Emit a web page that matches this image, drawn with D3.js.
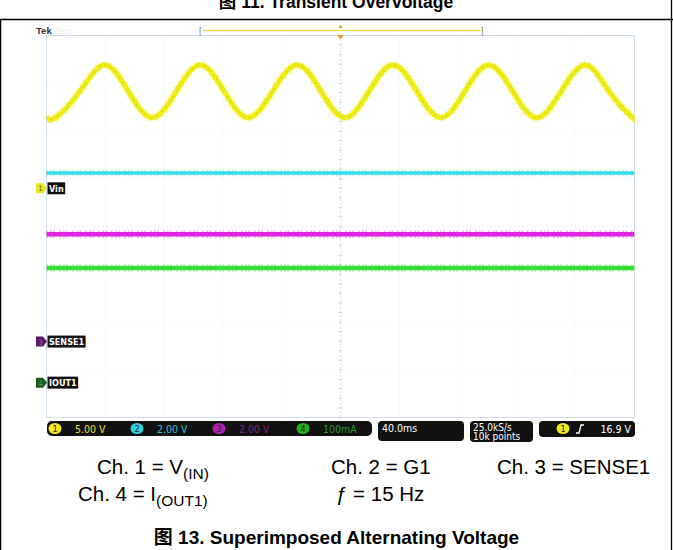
<!DOCTYPE html>
<html><head><meta charset="utf-8">
<script src="https://cdn.jsdelivr.net/npm/d3@7"></script>
<style>body{margin:0;background:#fff}svg{display:block}</style>
</head><body>
<svg id="c" width="673" height="550"></svg>
<script>
// ---------- data ----------
const gridTimesMs = [-200,-160,-120,-80,-40,0,40,80,120,160,200];   // 40 ms/div
const gridDivs = [-4,-3,-2,-1,0,1,2,3,4];
const ch1Time = [-200,-193.9,-177.3,-160.6,-144.3,-128.0,-111.7,-95.4,-79.1,-62.8,-46.2,-29.5,-13.2,3.1,19.4,35.7,52.0,68.3,84.6,100.8,117.2,133.5,150.1,166.7,182.7,198.6,200];
const ch1Volt = [7.5,7.4,10.15,12.9,10.15,7.4,10.15,12.9,10.15,7.4,10.15,12.9,10.15,7.4,10.15,12.9,10.15,7.4,10.15,12.9,10.15,7.4,10.15,12.9,10.15,7.4,7.42];
const flatTime = [-200, 200];
const ch2Volt = [0.64, 0.64];     // G1, 2 V/div
const ch3Volt = [4.5, 4.5];       // SENSE1, 2 V/div
const ch4mA = [240, 240];         // IOUT1, 100 mA/div
const channelNames = ["Vin","G1","SENSE1","IOUT1"];
const channelScales = ["5.00 V","2.00 V","2.00 V","100mA"];
const voltsPerDiv = [5, 2, 2, 100];
const groundDiv = [0.80, 0.80, -2.41, -3.27];
const timebase = "40.0ms", sampleRate = "25.0kS/s", recordLen = "10k points", trigLevel = "16.9 V";
const captionsRow1 = [["Ch. 1 = V","(IN)"],["Ch. 2 = G1",""],["Ch. 3 = SENSE1",""]];
const captionsRow2 = [["Ch. 4 = I","(OUT1)"],["ƒ = 15 Hz",""]];
const topTitle = "图 11. Transient Overvoltage";
const figTitle = "图 13. Superimposed Alternating Voltage";

// ---------- drawing ----------
const svg = d3.select("#c");
const F = "'Liberation Sans', Arial, 'Noto Sans CJK SC', sans-serif";
const SF = "'DejaVu Sans Condensed','Liberation Sans Narrow','DejaVu Sans',sans-serif";

// page frame
svg.append("line").attr("x1",0).attr("x2",673).attr("y1",19.5).attr("y2",19.5).attr("stroke","#000").attr("stroke-width",1.3);
svg.append("line").attr("x1",0.6).attr("x2",0.6).attr("y1",19).attr("y2",550).attr("stroke","#000").attr("stroke-width",1.3);
svg.append("line").attr("x1",671.5).attr("x2",671.5).attr("y1",0).attr("y2",550).attr("stroke","#000").attr("stroke-width",1.3);
svg.append("text").attr("x",336).attr("y",8).attr("text-anchor","middle").attr("font-family",F).attr("font-weight","bold").attr("font-size",17.5).text(topTitle);

const L=46.5, R=634.5, T=35.5, B=417.5;
const x = d3.scaleLinear().domain([-200,200]).range([L,R]);
const y = d3.scaleLinear().domain([-4,4]).range([B,T]);

// grid
const g = svg.append("g");
g.append("rect").attr("x",L).attr("y",T).attr("width",R-L).attr("height",B-T).attr("fill","#fff").attr("stroke","#cfdcea").attr("stroke-width",1);
g.selectAll(".vg").data(gridTimesMs.slice(1,-1)).join("line")
  .attr("x1",d=>x(d)).attr("x2",d=>x(d)).attr("y1",T).attr("y2",B)
  .attr("stroke",d=>d===0?"#b8c4d0":"#e4ebf3").attr("stroke-width",1).attr("stroke-dasharray","1 3");
g.selectAll(".hg").data(gridDivs.slice(1,-1)).join("line")
  .attr("y1",d=>y(d)).attr("y2",d=>y(d)).attr("x1",L).attr("x2",R)
  .attr("stroke",d=>d===0?"#d0dae4":"#e8eef5").attr("stroke-width",1).attr("stroke-dasharray","1 3");
// minor ticks on centre line
const minorV = d3.range(-4,4.01,0.2);
g.selectAll(".mt").data(minorV).join("line")
  .attr("x1",x(0)-2).attr("x2",x(0)+2).attr("y1",d=>y(d)).attr("y2",d=>y(d))
  .attr("stroke","#c4ced8").attr("stroke-width",0.8);

// top bar
svg.append("text").attr("x",36).attr("y",34).attr("font-family","'Liberation Sans',Arial").attr("font-weight","bold").attr("font-size",9.5).attr("fill","#333").text("Tek");
svg.append("text").attr("x",55).attr("y",34).attr("font-family",SF).attr("font-size",8.5).attr("fill","#eceff3").text("Stop");
svg.append("text").attr("x",199).attr("y",34).attr("font-family",F).attr("font-size",9).attr("fill","#888").text("[");
svg.append("text").attr("x",481).attr("y",34).attr("font-family",F).attr("font-size",9).attr("fill","#888").text("]");
svg.append("line").attr("x1",203).attr("x2",481).attr("y1",30.5).attr("y2",30.5).attr("stroke","#eedd55").attr("stroke-width",1.3);
svg.append("rect").attr("x",x(0)-1.5).attr("y",25.5).attr("width",3).attr("height",2.5).attr("fill","#e8a030");
svg.append("path").attr("d",`M${x(0)-3.5},35 L${x(0)+3.5},35 L${x(0)},39.5 Z`).attr("fill","#e8a030");

// traces
const clip = svg.append("clipPath").attr("id","cp").append("rect").attr("x",L).attr("y",T).attr("width",R-L).attr("height",B-T);
const tr = svg.append("g").attr("clip-path","url(#cp)");
function ypos(ch,v){ return y(groundDiv[ch] + v/voltsPerDiv[ch]); }

const ch1Pts = ch1Time.map((t,i)=>[t,ch1Volt[i]]);
const sine = d3.line().x(d=>x(d[0])).y(d=>ypos(0,d[1])).curve(d3.curveNatural);
tr.append("path").attr("d",sine(ch1Pts)).attr("fill","none").attr("stroke","#f2ee3c").attr("stroke-width",8).attr("stroke-dasharray","1 2 2 1").attr("opacity",0.55);
tr.append("path").attr("d",sine(ch1Pts)).attr("fill","none").attr("stroke","#efec12").attr("stroke-width",5);
tr.append("path").attr("d",sine(ch1Pts)).attr("fill","none").attr("stroke","#8f8a20").attr("stroke-width",1).attr("stroke-dasharray","1 4 1 7").attr("opacity",0.55);

const flats = [
  {ch:1, vals:ch2Volt, col:"#35dde6", w:3.5},
  {ch:2, vals:ch3Volt, col:"#e025e0", w:4.5},
  {ch:3, vals:ch4mA,  col:"#35dd35", w:4.5}
];
flats.forEach(f=>{
  const pts = flatTime.map((t,i)=>[t,f.vals[i]]);
  const ln = d3.line().x(d=>x(d[0])).y(d=>ypos(f.ch,d[1]));
  tr.append("path").attr("d",ln(pts)).attr("fill","none").attr("stroke",f.col).attr("stroke-width",f.w+3.5).attr("stroke-dasharray","1 3 1 2 1 5").attr("opacity",0.5);
  tr.append("path").attr("d",ln(pts)).attr("fill","none").attr("stroke",f.col).attr("stroke-width",f.w);
});

// channel markers on left
const markers = [
  {ch:0, fill:"#eee820", txt:"#555", label:channelNames[0]},
  {ch:2, fill:"#5c1a5c", txt:"#a050a0", label:channelNames[2]},
  {ch:3, fill:"#1c5a1c", txt:"#40a040", label:channelNames[3]}
];
markers.forEach(m=>{
  const yy = y(groundDiv[m.ch]);
  svg.append("path").attr("d",`M36,${yy-5} L43,${yy-5} L47,${yy} L43,${yy+5} L36,${yy+5} Z`).attr("fill",m.fill);
  svg.append("text").attr("x",40.5).attr("y",yy+3).attr("text-anchor","middle").attr("font-family",SF).attr("font-size",7.5).attr("fill",m.txt).text(m.ch+1);
  const t = svg.append("text").attr("x",49).attr("y",yy+3.5).attr("font-family",SF).attr("font-weight","bold").attr("font-size",9).attr("fill","#fff").text(m.label);
  const w = t.node().getComputedTextLength();
  svg.insert("rect","text:last-of-type").attr("x",47.5).attr("y",yy-6).attr("width",w+3).attr("height",12).attr("fill","#111");
  t.raise();
});

// status bar
const sb = svg.append("g").attr("font-family",SF);
const by = 421;
sb.append("rect").attr("x",47).attr("y",by).attr("width",325).attr("height",15).attr("rx",5).attr("fill","#111");
const chCol = ["#f0e820","#30d0e0","#b020b0","#20b020"];
const chTxt = ["#e8e030","#30c8d8","#7a2a80","#2aa02a"];
const chX = [49,131,213,297];
channelScales.forEach((s,i)=>{
  sb.append("ellipse").attr("cx",chX[i]+6).attr("cy",by+7.5).attr("rx",6.5).attr("ry",5.5).attr("fill",chCol[i]);
  sb.append("text").attr("x",chX[i]+6).attr("y",by+11).attr("text-anchor","middle").attr("font-size",9).attr("fill","#222").text(i+1);
  sb.append("text").attr("x",chX[i]+26).attr("y",by+11.5).attr("font-size",10.5).attr("fill",chTxt[i]).text(s);
});
sb.append("rect").attr("x",378).attr("y",by).attr("width",86).attr("height",20).attr("rx",4).attr("fill","#111");
sb.append("text").attr("x",382).attr("y",by+10.5).attr("font-size",10.5).attr("fill","#fff").text(timebase);
sb.append("rect").attr("x",470).attr("y",by).attr("width",63).attr("height",21).attr("rx",4).attr("fill","#111");
sb.append("text").attr("x",473).attr("y",by+9.5).attr("font-size",10).attr("fill","#fff").text(sampleRate);
sb.append("text").attr("x",473).attr("y",by+19).attr("font-size",10).attr("fill","#fff").text(recordLen);
sb.append("rect").attr("x",539).attr("y",by).attr("width",96).attr("height",16).attr("rx",4).attr("fill","#111");
sb.append("ellipse").attr("cx",563).attr("cy",by+7.5).attr("rx",6.5).attr("ry",5.5).attr("fill",chCol[0]);
sb.append("text").attr("x",563).attr("y",by+11).attr("text-anchor","middle").attr("font-size",9).attr("fill","#222").text("1");
sb.append("path").attr("d",`M576,${by+12} L579,${by+12} L581,${by+4} L584,${by+4}`).attr("fill","none").attr("stroke","#fff").attr("stroke-width",1.3);
sb.append("text").attr("x",631).attr("y",by+11.5).attr("text-anchor","end").attr("font-size",10.5).attr("fill","#fff").text(trigLevel);

// captions
const cap = svg.append("g").attr("font-family",F).attr("font-size",20.5).attr("fill","#000");
function caption(arr, xs, yb){
  arr.forEach((c,i)=>{
    const t = cap.append("text").attr("x",xs[i]).attr("y",yb);
    t.append("tspan").text(c[0]);
    if(c[1]) t.append("tspan").attr("dy",5).attr("font-size",15.5).text(c[1]);
  });
}
caption(captionsRow1,[97,331,497],474);
caption(captionsRow2,[78,336],501);
svg.append("text").attr("x",336.5).attr("y",544).attr("text-anchor","middle").attr("font-family",F).attr("font-weight","bold").attr("font-size",19).text(figTitle);
</script>
</body></html>
